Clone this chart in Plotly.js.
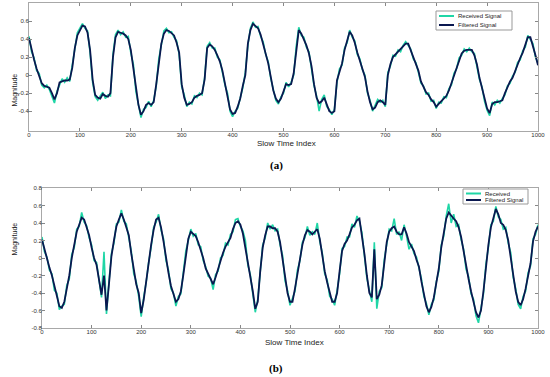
<!DOCTYPE html>
<html>
<head>
<meta charset="utf-8">
<script src="https://cdn.plot.ly/plotly-3.0.1.min.js"></script>
<style>
html,body{margin:0;padding:0;background:#fff;}
#chart{width:550px;height:377px;}
</style>
</head>
<body>
<div id="chart"></div>
<script>
// Sample spacing of the arrays below (slow time index units)
const sampleStep = 5;

// ---- (a) ----
const receivedA = [
  0.43, 0.26, 0.19, 0.05, 0.02, -0.11, -0.14, -0.11, -0.16, -0.23,
  -0.31, -0.18, -0.10, -0.04, -0.08, -0.03, -0.07, 0.11, 0.27, 0.47,
  0.52, 0.57, 0.52, 0.49, 0.25, -0.08, -0.24, -0.28, -0.23, -0.19,
  -0.26, -0.22, -0.23, 0.23, 0.45, 0.50, 0.45, 0.48, 0.42, 0.43,
  0.25, 0.12, -0.18, -0.35, -0.47, -0.38, -0.36, -0.29, -0.35, -0.28,
  -0.12, 0.18, 0.33, 0.49, 0.52, 0.47, 0.48, 0.42, 0.38, 0.23,
  -0.13, -0.22, -0.35, -0.30, -0.32, -0.23, -0.25, -0.20, -0.22, -0.03,
  0.32, 0.36, 0.30, 0.30, 0.20, 0.17, 0.03, -0.11, -0.20, -0.40,
  -0.46, -0.40, -0.37, -0.24, -0.14, 0.03, 0.33, 0.52, 0.59, 0.53,
  0.54, 0.43, 0.37, 0.23, 0.15, -0.04, -0.15, -0.28, -0.32, -0.24,
  -0.20, -0.08, -0.13, -0.08, 0.00, 0.32, 0.53, 0.44, 0.42, 0.31,
  0.26, 0.08, -0.12, -0.23, -0.40, -0.27, -0.22, -0.35, -0.38, -0.44,
  -0.38, -0.08, 0.07, 0.11, 0.30, 0.36, 0.50, 0.42, 0.38, 0.23,
  0.18, 0.06, 0.00, -0.20, -0.28, -0.40, -0.34, -0.27, -0.30, -0.28,
  -0.35, 0.03, 0.10, 0.22, 0.21, 0.28, 0.26, 0.33, 0.37, 0.33,
  0.29, 0.18, 0.14, 0.03, -0.09, -0.12, -0.21, -0.20, -0.29, -0.28,
  -0.37, -0.30, -0.31, -0.24, -0.25, -0.15, -0.11, 0.02, 0.07, 0.19,
  0.22, 0.29, 0.26, 0.30, 0.26, 0.24, 0.10, -0.05, -0.13, -0.29,
  -0.39, -0.45, -0.30, -0.33, -0.28, -0.31, -0.26, -0.22, -0.12, -0.09,
  -0.01, 0.03, 0.14, 0.17, 0.27, 0.31, 0.44, 0.40, 0.35, 0.20,
  0.13
];
const filteredA = [
  0.41, 0.28, 0.17, 0.07, 0.00, -0.09, -0.12, -0.13, -0.14, -0.20,
  -0.27, -0.20, -0.08, -0.07, -0.06, -0.06, -0.05, 0.08, 0.30, 0.44,
  0.50, 0.55, 0.54, 0.47, 0.28, -0.05, -0.22, -0.25, -0.26, -0.21,
  -0.23, -0.24, -0.20, 0.20, 0.42, 0.48, 0.47, 0.46, 0.44, 0.40,
  0.28, 0.09, -0.15, -0.33, -0.44, -0.40, -0.33, -0.31, -0.33, -0.30,
  -0.10, 0.15, 0.35, 0.46, 0.50, 0.49, 0.46, 0.44, 0.36, 0.25,
  -0.10, -0.25, -0.33, -0.32, -0.30, -0.25, -0.23, -0.22, -0.20, -0.05,
  0.30, 0.34, 0.32, 0.28, 0.22, 0.15, 0.05, -0.09, -0.22, -0.38,
  -0.43, -0.42, -0.35, -0.26, -0.12, 0.00, 0.35, 0.50, 0.57, 0.55,
  0.52, 0.45, 0.35, 0.25, 0.13, -0.02, -0.17, -0.26, -0.30, -0.26,
  -0.18, -0.10, -0.11, -0.10, 0.02, 0.30, 0.50, 0.46, 0.40, 0.33,
  0.24, 0.10, -0.10, -0.25, -0.31, -0.29, -0.25, -0.33, -0.40, -0.42,
  -0.40, -0.06, 0.05, 0.13, 0.28, 0.38, 0.48, 0.44, 0.36, 0.25,
  0.16, 0.08, -0.02, -0.18, -0.30, -0.38, -0.36, -0.30, -0.28, -0.30,
  -0.33, 0.00, 0.12, 0.20, 0.23, 0.26, 0.28, 0.31, 0.35, 0.35,
  0.27, 0.20, 0.12, 0.05, -0.07, -0.14, -0.19, -0.22, -0.27, -0.30,
  -0.35, -0.32, -0.29, -0.26, -0.23, -0.17, -0.09, 0.00, 0.09, 0.17,
  0.24, 0.27, 0.28, 0.28, 0.28, 0.22, 0.12, -0.03, -0.15, -0.27,
  -0.37, -0.42, -0.32, -0.30, -0.30, -0.29, -0.28, -0.20, -0.14, -0.07,
  -0.03, 0.05, 0.12, 0.19, 0.25, 0.33, 0.42, 0.42, 0.33, 0.22,
  0.11
];

// ---- (b) ----
const receivedB = [
  0.24, 0.07, 0.01, -0.14, -0.18, -0.37, -0.40, -0.59, -0.55, -0.53,
  -0.31, -0.24, 0.04, 0.12, 0.33, 0.36, 0.52, 0.41, 0.37, 0.23,
  0.15, -0.03, -0.05, -0.28, -0.45, 0.07, -0.64, -0.27, 0.05, 0.17,
  0.39, 0.41, 0.55, 0.42, 0.39, 0.23, 0.08, -0.18, -0.27, -0.44,
  -0.67, -0.45, -0.28, -0.05, 0.12, 0.35, 0.41, 0.50, 0.32, 0.22,
  -0.03, -0.14, -0.35, -0.40, -0.55, -0.44, -0.41, -0.16, 0.08, 0.20,
  0.33, 0.25, 0.28, 0.15, 0.13, -0.03, -0.10, -0.21, -0.23, -0.36,
  -0.19, -0.15, 0.00, 0.03, 0.17, 0.15, 0.27, 0.30, 0.44, 0.45,
  0.36, 0.31, 0.20, -0.08, -0.19, -0.41, -0.62, -0.47, -0.18, 0.15,
  0.23, 0.40, 0.33, 0.38, 0.31, 0.33, 0.15, 0.03, -0.26, -0.37,
  -0.54, -0.47, -0.38, -0.14, -0.03, 0.18, 0.23, 0.36, 0.26, 0.30,
  0.27, 0.40, 0.19, 0.06, -0.18, -0.25, -0.44, -0.47, -0.54, -0.37,
  -0.18, 0.11, 0.13, 0.24, 0.24, 0.39, 0.35, 0.48, 0.42, 0.29,
  0.02, -0.23, -0.37, -0.50, 0.18, -0.58, -0.38, -0.34, -0.02, 0.15,
  0.33, 0.31, 0.45, 0.27, 0.30, 0.20, 0.38, 0.25, 0.10, 0.16,
  0.05, 0.01, -0.13, -0.24, -0.44, -0.52, -0.65, -0.53, -0.48, -0.27,
  -0.15, 0.15, 0.25, 0.48, 0.62, 0.40, 0.50, 0.36, 0.38, 0.21,
  0.10, -0.13, -0.21, -0.41, -0.47, -0.66, -0.74, -0.57, -0.41, -0.07,
  0.12, 0.38, 0.42, 0.59, 0.47, 0.44, 0.33, 0.35, 0.17, 0.06,
  -0.22, -0.35, -0.53, -0.58, -0.44, -0.38, -0.17, -0.09, 0.22, 0.27,
  0.38
];
const filteredB = [
  0.21, 0.10, -0.02, -0.11, -0.20, -0.33, -0.42, -0.55, -0.57, -0.50,
  -0.35, -0.20, 0.00, 0.15, 0.30, 0.38, 0.46, 0.44, 0.34, 0.26,
  0.12, 0.00, -0.08, -0.25, -0.42, -0.20, -0.60, -0.30, 0.02, 0.20,
  0.36, 0.44, 0.51, 0.44, 0.36, 0.26, 0.05, -0.15, -0.30, -0.40,
  -0.63, -0.48, -0.25, -0.08, 0.15, 0.32, 0.44, 0.46, 0.35, 0.19,
  0.00, -0.17, -0.32, -0.42, -0.50, -0.47, -0.38, -0.19, 0.05, 0.22,
  0.30, 0.28, 0.25, 0.18, 0.10, 0.00, -0.12, -0.18, -0.25, -0.30,
  -0.22, -0.12, -0.03, 0.06, 0.13, 0.18, 0.23, 0.33, 0.40, 0.42,
  0.38, 0.28, 0.12, -0.05, -0.22, -0.38, -0.58, -0.50, -0.15, 0.12,
  0.26, 0.36, 0.36, 0.34, 0.34, 0.30, 0.18, 0.00, -0.23, -0.40,
  -0.50, -0.50, -0.35, -0.17, 0.00, 0.15, 0.26, 0.32, 0.30, 0.27,
  0.30, 0.33, 0.22, 0.03, -0.15, -0.28, -0.40, -0.50, -0.50, -0.40,
  -0.15, 0.08, 0.16, 0.20, 0.27, 0.35, 0.38, 0.43, 0.45, 0.26,
  0.05, -0.20, -0.40, -0.45, 0.10, -0.47, -0.42, -0.31, -0.05, 0.18,
  0.30, 0.34, 0.36, 0.30, 0.27, 0.27, 0.35, 0.28, 0.18, 0.13,
  0.08, -0.02, -0.10, -0.27, -0.40, -0.55, -0.62, -0.56, -0.45, -0.30,
  -0.12, 0.12, 0.28, 0.45, 0.52, 0.48, 0.45, 0.42, 0.35, 0.24,
  0.07, -0.10, -0.24, -0.38, -0.50, -0.62, -0.68, -0.60, -0.38, -0.10,
  0.15, 0.35, 0.45, 0.56, 0.50, 0.40, 0.38, 0.32, 0.20, 0.03,
  -0.19, -0.38, -0.50, -0.54, -0.47, -0.35, -0.20, -0.06, 0.19, 0.30,
  0.36
];

const xTicks = [0, 100, 200, 300, 400, 500, 600, 700, 800, 900, 1000];
const yTicksA = [-0.4, -0.2, 0, 0.2, 0.4, 0.6];
const yTickTextA = ["-0.4", "-0.2", "0", "0.2", "0.4", "0.6"];
const yTicksB = [-0.8, -0.6, -0.4, -0.2, 0, 0.2, 0.4, 0.6, 0.8];
const yTickTextB = ["-0.8", "-0.6", "-0.4", "-0.2", "0", "0.2", "0.4", "0.6", "0.8"];
const legendNamesA = ["Received Signal", "Filtered Signal"];
const legendNamesB = ["Received", "Filtered Signal"];

const idx = arr => arr.map((_, i) => i * sampleStep);

const greenC = "#1fd6a6";
const navyC = "#0a1850";
const sansF = "Liberation Sans, Arial, sans-serif";

const traces = [
  {x: idx(receivedA), y: receivedA, xaxis: "x", yaxis: "y", type: "scatter", mode: "lines",
   name: legendNamesA[0], line: {color: greenC, width: 1.6}},
  {x: idx(filteredA), y: filteredA, xaxis: "x", yaxis: "y", type: "scatter", mode: "lines",
   name: legendNamesA[1], line: {color: navyC, width: 1.8}},
  {x: idx(receivedB), y: receivedB, xaxis: "x2", yaxis: "y2", type: "scatter", mode: "lines",
   name: legendNamesB[0], line: {color: greenC, width: 1.6}},
  {x: idx(filteredB), y: filteredB, xaxis: "x2", yaxis: "y2", type: "scatter", mode: "lines",
   name: legendNamesB[1], line: {color: navyC, width: 1.8}}
];

const axBase = {
  showline: true, mirror: "ticks", linecolor: "#a8a8a8", linewidth: 1,
  ticks: "inside", ticklen: 3, tickcolor: "#888", showgrid: false, zeroline: false,
  tickfont: {family: sansF, size: 6, color: "#333"},
  ticklabelstandoff: -2,
  automargin: false
};

const W = 550, H = 377;
const px = v => v / W;
const py = v => 1 - v / H;

// compact legend boxes (drawn like the MATLAB legends in the reference)
function legendBox(x0, y0, x1, y1, rows, names) {
  const shapes = [{type: "rect", xref: "paper", yref: "paper", x0: px(x0), x1: px(x1), y0: py(y0), y1: py(y1),
    line: {color: "#999", width: 1}, fillcolor: "#fff", layer: "above"}];
  const anns = [];
  const cols = [greenC, navyC];
  rows.forEach((r, i) => {
    shapes.push({type: "line", xref: "paper", yref: "paper", x0: px(x0 + 3), x1: px(x0 + 18), y0: py(r), y1: py(r),
      line: {color: cols[i], width: 2}, layer: "above"});
    anns.push({text: names[i], xref: "paper", yref: "paper", x: px(x0 + 20), y: py(r), xanchor: "left", yanchor: "middle",
      showarrow: false, font: {family: sansF, size: 6, color: "#222"}});
  });
  return {shapes, anns};
}
const legA = legendBox(436, 11, 512, 30, [16, 25], legendNamesA);
const legB = legendBox(463, 189, 528, 204, [193.5, 200], legendNamesB);

const layout = {
  width: W, height: H,
  margin: {l: 0, r: 0, t: 0, b: 0},
  paper_bgcolor: "#fff", plot_bgcolor: "#fff",
  showlegend: false,
  xaxis: Object.assign({}, axBase, {domain: [px(29), px(538)], range: [0, 1000], tickvals: xTicks, anchor: "y"}),
  yaxis: Object.assign({}, axBase, {domain: [py(131), py(3)], range: [-0.62, 0.8], tickvals: yTicksA, ticktext: yTickTextA, anchor: "x"}),
  xaxis2: Object.assign({}, axBase, {domain: [px(42), px(538)], range: [0, 1000], tickvals: xTicks, anchor: "y2"}),
  yaxis2: Object.assign({}, axBase, {domain: [py(328), py(188)], range: [-0.8, 0.8], tickvals: yTicksB, ticktext: yTickTextB, anchor: "x2"}),
  shapes: legA.shapes.concat(legB.shapes),
  annotations: [
    {text: "Magnitude", xref: "paper", yref: "paper", x: px(8), y: py(72), showarrow: false, textangle: -90,
     font: {family: sansF, size: 7, color: "#222"}},
    {text: "Slow Time Index", xref: "paper", yref: "paper", x: px(286), y: py(143), yanchor: "middle", showarrow: false,
     font: {family: sansF, size: 8, color: "#222"}},
    {text: "<b>(a)</b>", xref: "paper", yref: "paper", x: px(276), y: py(165), yanchor: "middle", showarrow: false,
     font: {family: "Liberation Serif, Times New Roman, serif", size: 11, color: "#000"}},
    {text: "Magnitude", xref: "paper", yref: "paper", x: px(8), y: py(258), showarrow: false, textangle: -90,
     font: {family: sansF, size: 7, color: "#222"}},
    {text: "Slow Time Index", xref: "paper", yref: "paper", x: px(294), y: py(342), yanchor: "middle", showarrow: false,
     font: {family: sansF, size: 8, color: "#222"}},
    {text: "<b>(b)</b>", xref: "paper", yref: "paper", x: px(276), y: py(368), yanchor: "middle", showarrow: false,
     font: {family: "Liberation Serif, Times New Roman, serif", size: 11, color: "#000"}}
  ].concat(legA.anns, legB.anns)
};

Plotly.newPlot("chart", traces, layout, {displayModeBar: false, staticPlot: true});
</script>
</body>
</html>
